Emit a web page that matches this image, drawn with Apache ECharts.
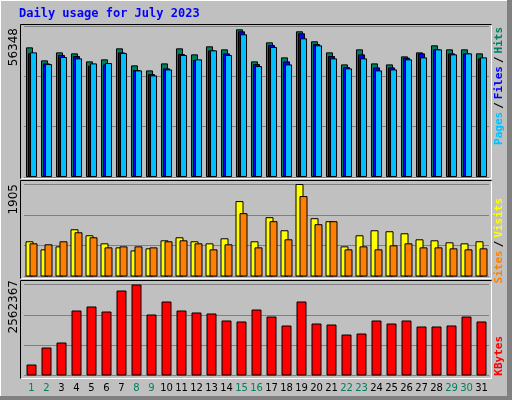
<!DOCTYPE html>
<html><head><meta charset="utf-8">
<script src="https://cdn.jsdelivr.net/npm/echarts@6/dist/echarts.min.js"></script>
<style>html,body{margin:0;padding:0;background:#c0c0c0}#c{width:512px;height:400px}</style>
</head><body><div id="c"></div>
<script>
const days = ['1','2','3','4','5','6','7','8','9','10','11','12','13','14','15','16','17','18','19','20','21','22','23','24','25','26','27','28','29','30','31'];
const weekend = ['1','2','8','9','15','16','22','23','29','30'];
const hits  = [48380,43520,46510,46140,43150,43900,48010,41650,39780,42400,48010,45770,48760,47640,55120,43150,50250,44640,54370,50630,46510,42020,47640,42400,42020,45020,46510,49130,47640,47640,46140];
const files = [46140,42400,45520,45140,41520,42020,46510,39900,38410,40530,45890,43650,47260,46140,54370,42150,49260,43150,53620,49630,45140,41030,45770,40900,40900,44520,46140,47640,46140,46140,44270];
const pages = [46510,42150,44770,44270,42400,42520,46260,39780,37910,40150,45520,43900,47260,45520,53250,41400,48510,42020,51750,49130,44270,40530,44270,39780,40150,43900,44640,47640,45770,46140,44640];
const visits = [725,559,621,973,849,683,600,538,580,745,808,725,683,787,1553,725,1222,952,1905,1201,1139,621,849,952,932,890,766,745,704,683,725];
const sites  = [683,663,725,911,808,600,621,621,600,725,745,683,559,663,1304,600,1139,766,1656,1077,1139,559,621,559,642,683,600,600,580,559,580];
const kbytes = [309700,788400,929200,1830000,1943000,1802000,2393000,2562367,1718000,2084000,1830000,1774000,1746000,1549000,1521000,1858000,1661000,1408000,2084000,1464000,1436000,1154000,1183000,1549000,1464000,1549000,1380000,1380000,1408000,1661000,1521000];
const maxHits = 56348, maxVisits = 1905, maxKB = 2562367;

const ch = echarts.init(document.getElementById('c'));
const L = 24, W = 465;
const grids = [
  {left:L, width:W, top:26, height:151},
  {left:L, width:W, top:184, height:92.5},
  {left:L, width:W, top:284.5, height:91}
];
function xa(i, show){
  return {type:'category', gridIndex:i, data:days, boundaryGap:true,
    axisLine:{show:false}, axisTick:{show:false}, splitLine:{show:false},
    axisLabel:{show:show, interval:0, margin:8, fontFamily:'DejaVu Sans', fontSize:10,
      color:(v)=> weekend.includes(v) ? '#008060' : '#000000'}};
}
function ya(i, max){
  return {type:'value', gridIndex:i, min:0, max:max, interval:max/3,
    axisLine:{show:false}, axisTick:{show:false}, axisLabel:{show:false},
    splitLine:{show:true, lineStyle:{color:'#808080', width:1}}};
}
const bs = {borderColor:'#000', borderWidth:1};
const series = [
  {type:'bar', xAxisIndex:0, yAxisIndex:0, data:hits, barWidth:7, barGap:'-71%', itemStyle:{color:'#008060', ...bs}},
  {type:'bar', xAxisIndex:0, yAxisIndex:0, data:files, barWidth:7, barGap:'-71%', itemStyle:{color:'#0000ff', ...bs}},
  {type:'bar', xAxisIndex:0, yAxisIndex:0, data:pages, barWidth:7, barGap:'-71%', itemStyle:{color:'#00c0ff', ...bs}},
  {type:'bar', xAxisIndex:1, yAxisIndex:1, data:visits, barWidth:8, barGap:'-50%', itemStyle:{color:'#ffff00', ...bs}},
  {type:'bar', xAxisIndex:1, yAxisIndex:1, data:sites, barWidth:8, barGap:'-50%', itemStyle:{color:'#ff8000', ...bs}},
  {type:'bar', xAxisIndex:2, yAxisIndex:2, data:kbytes, barWidth:10, itemStyle:{color:'#ff0000', ...bs}}
];
function frame(y1, y2){
  return [
    {type:'rect', shape:{x:20.5,y:y1+0.5,width:471,height:y2-y1}, style:{fill:'#c0c0c0', stroke:null}, z:-10},
    {type:'polyline', shape:{points:[[20.5,y2+0.5],[20.5,y1+0.5],[491.5,y1+0.5]]}, style:{stroke:'#000', lineWidth:1, fill:null}, z:-5},
    {type:'polyline', shape:{points:[[21.5,y2+0.5],[491.5,y2+0.5],[491.5,y1+1.5]]}, style:{stroke:'#fff', lineWidth:1, fill:null}, z:-5}
  ];
}
const mono = '"DejaVu Sans Mono", monospace';
const graphic = [
  {type:'rect', shape:{x:0,y:0,width:512,height:400}, style:{fill:'#c0c0c0'}, z:-20},
  {type:'polyline', shape:{points:[[0.5,399],[0.5,0.5],[511,0.5]]}, style:{stroke:'#fff', lineWidth:1, fill:null}, z:-19},
  {type:'rect', shape:{x:507,y:0,width:5,height:400}, style:{fill:'#808080'}, z:-19},
  {type:'rect', shape:{x:0,y:396,width:512,height:4}, style:{fill:'#808080'}, z:-19},
  ...frame(24,178), ...frame(180,278), ...frame(280,378),
  {type:'text', x:19, y:8, style:{text:'Daily usage for July 2023', fill:'#0000ff', font:'bold 12px '+mono}},
  {type:'text', x:8, y:28, rotation:Math.PI/2,
   style:{text:'56348', fill:'#000', font:'12px "DejaVu Sans"', align:'right', verticalAlign:'top'}},
  {type:'text', x:8, y:184, rotation:Math.PI/2,
   style:{text:'1905', fill:'#000', font:'12px "DejaVu Sans"', align:'right', verticalAlign:'top'}},
  {type:'text', x:8, y:280, rotation:Math.PI/2,
   style:{text:'2562367', fill:'#000', font:'12px "DejaVu Sans"', align:'right', verticalAlign:'top'}},
  {type:'text', x:494, y:27, rotation:Math.PI/2,
   style:{text:'{p|Pages}{s|/}{f|Files}{s|/}{h|Hits}', align:'right', verticalAlign:'top', font:'bold 11px '+mono,
     rich:{p:{fill:'#00c0ff',font:'bold 11px '+mono},f:{fill:'#0000ff',font:'bold 11px '+mono},h:{fill:'#008060',font:'bold 11px '+mono},s:{fill:'#000',font:'bold 11px '+mono,padding:[0,3]}}}},
  {type:'text', x:494, y:198, rotation:Math.PI/2,
   style:{text:'{a|Sites}{s|/}{b|Visits}', align:'right', verticalAlign:'top', font:'bold 11px '+mono,
     rich:{a:{fill:'#ff8000',font:'bold 11px '+mono},b:{fill:'#ffff00',font:'bold 11px '+mono},s:{fill:'#000',font:'bold 11px '+mono,padding:[0,3]}}}},
  {type:'text', x:494, y:336, rotation:Math.PI/2,
   style:{text:'KBytes', fill:'#ff0000', align:'right', verticalAlign:'top', font:'bold 11px '+mono}}
];
ch.setOption({
  animation:false,
  grid:grids,
  xAxis:[xa(0,false), xa(1,false), xa(2,true)],
  yAxis:[ya(0,maxHits), ya(1,maxVisits), ya(2,maxKB)],
  series:series,
  graphic:graphic
});
</script></body></html>
